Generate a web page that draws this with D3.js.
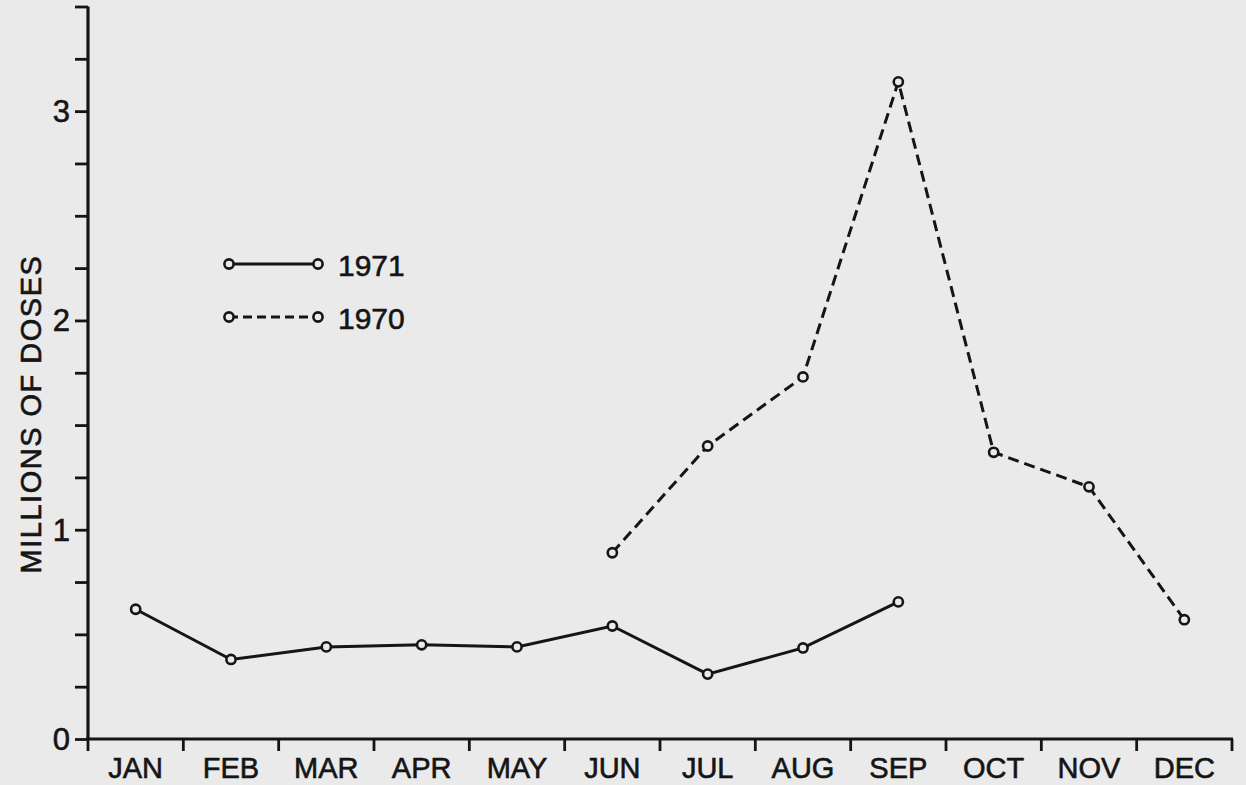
<!DOCTYPE html>
<html>
<head>
<meta charset="utf-8">
<script src="https://cdn.jsdelivr.net/npm/d3@7"></script>
<style>
  body { margin: 0; background: #eaeaea; }
  svg { display: block; }
  text { font-family: "Liberation Sans", Arial, sans-serif; fill: #151515; }
</style>
</head>
<body>
<div id="chart"></div>
<script>
// months and series
var months = ["JAN", "FEB", "MAR", "APR", "MAY", "JUN", "JUL", "AUG", "SEP", "OCT", "NOV", "DEC"];
var doses1971 = [0.62, 0.38, 0.44, 0.45, 0.44, 0.54, 0.31, 0.435, 0.655, null, null, null];
var doses1970 = [null, null, null, null, null, 0.89, 1.40, 1.73, 3.14, 1.37, 1.205, 0.57];
var yTicks = [0, 1, 2, 3];
var legendLabels = ["1971", "1970"];

var width = 1246, height = 785;
var ink = "#151515";
var paper = "#eaeaea";

var svg = d3.select("#chart").append("svg")
  .attr("width", width)
  .attr("height", height);

svg.append("rect")
  .attr("width", width)
  .attr("height", height)
  .attr("fill", paper);

var x = d3.scaleBand().domain(months).range([88, 1232]);
var y = d3.scaleLinear().domain([0, 3.5]).range([739, 6.5]);

// y axis: ticks every quarter, labels on whole numbers
var yAxis = d3.axisLeft(y)
  .tickValues(d3.range(0, 3.51, 0.25))
  .tickSize(13)
  .tickFormat(function (d) { return yTicks.indexOf(d) >= 0 ? d : ""; })
  .tickPadding(5);

var gy = svg.append("g")
  .attr("transform", "translate(" + x.range()[0] + ",0)")
  .call(yAxis);
gy.select(".domain").attr("stroke", ink).attr("stroke-width", 3.2).attr("d", "M0," + y(0) + "V" + y(3.5));
gy.selectAll(".tick line").attr("stroke", ink).attr("stroke-width", 2.8);
gy.selectAll(".tick text")
  .attr("font-size", 31)
  .style("font-family", "Liberation Sans, Arial, sans-serif")
  .attr("fill", ink)
  .attr("dy", "0.34em")
  .attr("stroke", ink).attr("stroke-width", 0.6);

// x axis: ticks at month boundaries
var bounds = months.map(function (m) { return x(m); }).concat([x.range()[1]]);
var gx = svg.append("g").attr("class", "x-axis");
gx.append("line")
  .attr("x1", x.range()[0] - 2).attr("x2", x.range()[1] + 1)
  .attr("y1", y(0)).attr("y2", y(0))
  .attr("stroke", ink).attr("stroke-width", 3.2);
gx.selectAll(".xtick")
  .data(bounds)
  .enter()
  .append("line")
  .attr("class", "xtick")
  .attr("x1", function (d) { return d; })
  .attr("x2", function (d) { return d; })
  .attr("y1", y(0))
  .attr("y2", y(0) + 12)
  .attr("stroke", ink).attr("stroke-width", 2.8);
gx.selectAll(".xlabel")
  .data(months)
  .enter()
  .append("text")
  .attr("class", "xlabel")
  .attr("x", function (d) { return x(d) + x.bandwidth() / 2; })
  .attr("y", 778)
  .attr("text-anchor", "middle")
  .attr("font-size", 29)
  .attr("stroke", ink).attr("stroke-width", 0.6)
  .text(function (d) { return d; });

// y title
svg.append("text")
  .attr("transform", "translate(41,414) rotate(-90)")
  .attr("text-anchor", "middle")
  .attr("font-size", 29)
  .attr("letter-spacing", 1.5)
  .attr("stroke", ink).attr("stroke-width", 0.6)
  .text("MILLIONS OF DOSES");

function drawSeries(values, dash) {
  var pts = values.map(function (v, i) { return { m: months[i], v: v }; })
    .filter(function (d) { return d.v !== null; });
  var line = d3.line()
    .x(function (d) { return x(d.m) + x.bandwidth() / 2; })
    .y(function (d) { return y(d.v); });
  svg.append("path")
    .datum(pts)
    .attr("d", line)
    .attr("fill", "none")
    .attr("stroke", ink)
    .attr("stroke-width", 3)
    .attr("stroke-dasharray", dash ? "11,6" : null);
  svg.selectAll(null)
    .data(pts)
    .enter()
    .append("circle")
    .attr("cx", function (d) { return x(d.m) + x.bandwidth() / 2; })
    .attr("cy", function (d) { return y(d.v); })
    .attr("r", 4.6)
    .attr("fill", paper)
    .attr("stroke", ink)
    .attr("stroke-width", 2.6);
}

drawSeries(doses1971, false);
drawSeries(doses1970, true);

// legend
var legend = svg.append("g");
legendLabels.forEach(function (lab, i) {
  var ly = 264 + i * 53;
  legend.append("line")
    .attr("x1", 229).attr("x2", 318)
    .attr("y1", ly).attr("y2", ly)
    .attr("stroke", ink).attr("stroke-width", 3)
    .attr("stroke-dasharray", i === 1 ? "9,5" : null);
  [229, 318].forEach(function (cx) {
    legend.append("circle")
      .attr("cx", cx).attr("cy", ly).attr("r", 4.6)
      .attr("fill", paper).attr("stroke", ink).attr("stroke-width", 2.6);
  });
  legend.append("text")
    .attr("x", 338)
    .attr("y", ly + 12)
    .attr("font-size", 30)
    .attr("stroke", ink).attr("stroke-width", 0.6)
    .text(lab);
});
</script>
</body>
</html>
